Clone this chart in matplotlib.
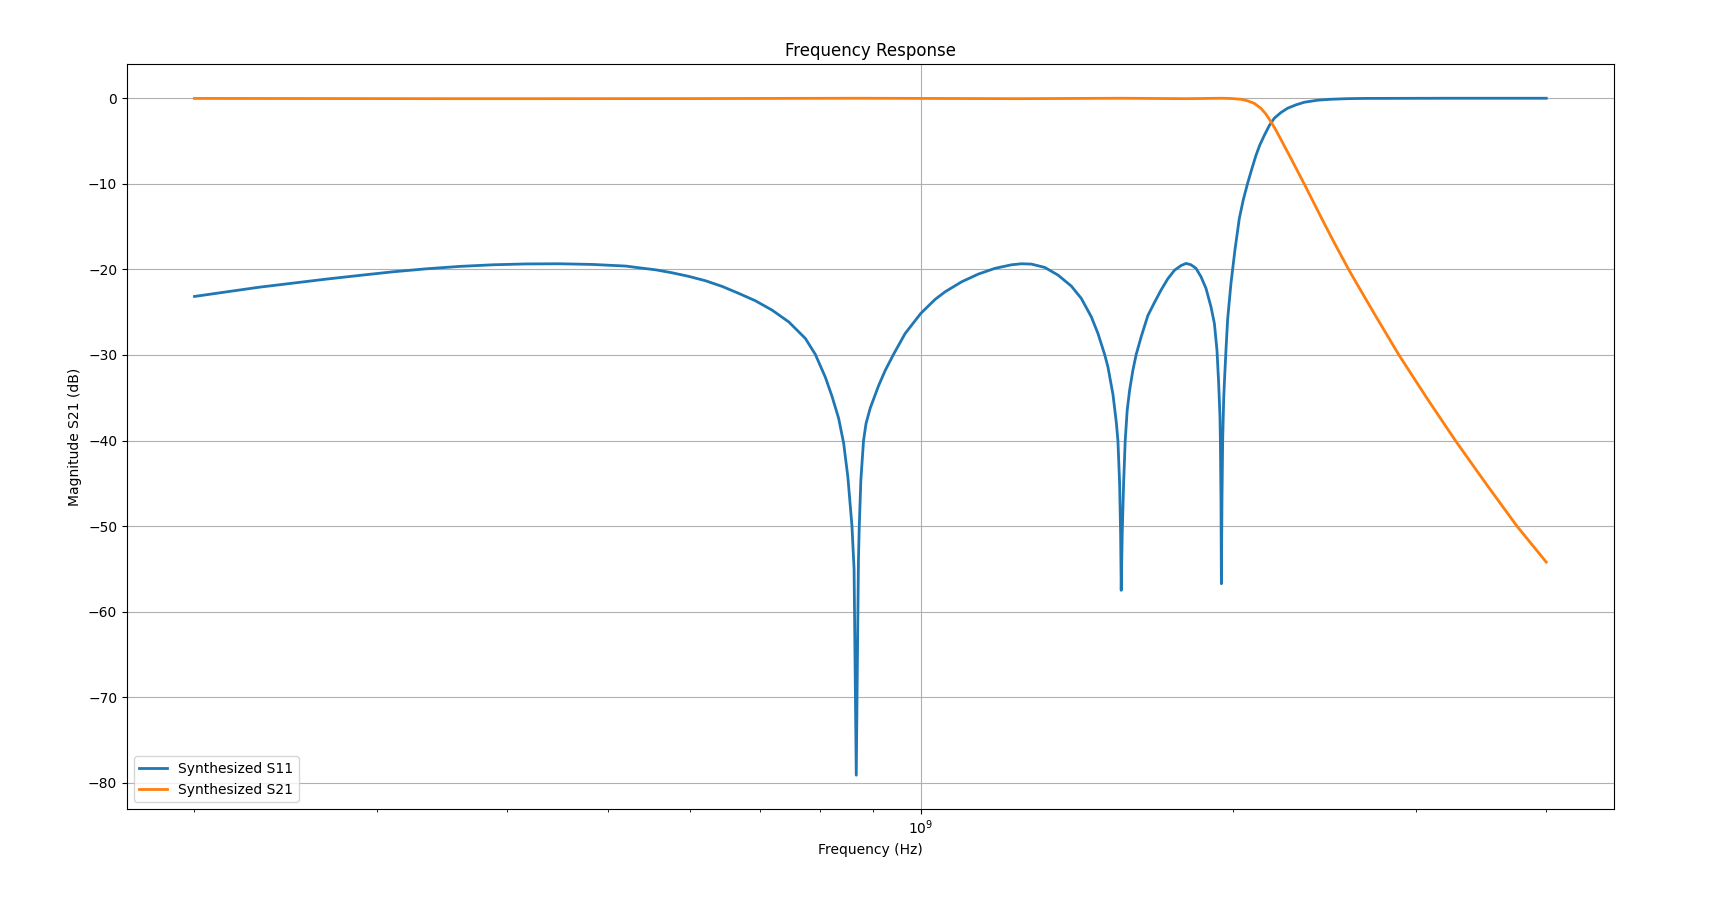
import matplotlib
matplotlib.use("Agg")
import matplotlib.pyplot as plt
import numpy as np

# ---- data (frequency in GHz, magnitude in dB) ----
s11_freq_ghz = [
    0.2000, 0.2148, 0.2312, 0.2489, 0.2680, 0.2884, 0.3105, 0.3343,
    0.3598, 0.3874, 0.4170, 0.4489, 0.4832, 0.5202, 0.5357, 0.5559,
    0.5767, 0.5983, 0.6209, 0.6441, 0.6684, 0.6934, 0.7194, 0.7464,
    0.7745, 0.7918, 0.8095, 0.8214, 0.8337, 0.8430, 0.8510, 0.8587,
    0.8627, 0.8669, 0.8711, 0.8727, 0.8758, 0.8810, 0.8859, 0.8942,
    0.9108, 0.9244, 0.9414, 0.9661, 1.0000, 1.0323, 1.0554, 1.0949,
    1.1360, 1.1787, 1.2229, 1.2502, 1.2781, 1.3166, 1.3559, 1.3963,
    1.4275, 1.4595, 1.4812, 1.5033, 1.5143, 1.5312, 1.5424, 1.5482,
    1.5540, 1.5574, 1.5595, 1.5630, 1.5678, 1.5734, 1.5803, 1.5888,
    1.6004, 1.6121, 1.6300, 1.6543, 1.6790, 1.7037, 1.7291, 1.7549,
    1.7807, 1.8005, 1.8205, 1.8408, 1.8612, 1.8819, 1.9028, 1.9172,
    1.9282, 1.9355, 1.9411, 1.9428, 1.9454, 1.9471, 1.9497, 1.9527,
    1.9570, 1.9600, 1.9670, 1.9744, 1.9889, 2.0065, 2.0261, 2.0441,
    2.0636, 2.0820, 2.1019, 2.1205, 2.1413, 2.1651, 2.1891, 2.2213,
    2.2545, 2.2962, 2.3393, 2.4091, 2.4810, 2.5743, 2.6712, 3.2112,
    4.0000,
]
s11_db = [
    -23.16, -22.62, -22.07, -21.60, -21.13, -20.70, -20.28, -19.93,
    -19.65, -19.46, -19.36, -19.34, -19.42, -19.61, -19.81, -20.05,
    -20.40, -20.82, -21.33, -21.99, -22.81, -23.67, -24.76, -26.13,
    -28.07, -29.94, -32.60, -34.80, -37.40, -40.30, -44.30, -50.00,
    -55.00, -79.10, -54.00, -50.00, -44.60, -40.00, -38.00, -36.20,
    -33.60, -31.80, -29.94, -27.49, -25.15, -23.51, -22.62, -21.45,
    -20.55, -19.88, -19.46, -19.34, -19.38, -19.77, -20.67, -21.95,
    -23.39, -25.54, -27.49, -29.94, -31.40, -34.60, -37.80, -40.00,
    -45.03, -50.88, -57.50, -50.88, -45.03, -40.00, -36.46, -34.12,
    -31.78, -29.94, -27.88, -25.40, -23.85, -22.40, -21.10, -20.10,
    -19.55, -19.30, -19.46, -19.88, -20.86, -22.22, -24.37, -26.32,
    -29.44, -33.33, -37.24, -40.00, -46.98, -56.73, -46.98, -40.00,
    -35.29, -33.33, -29.44, -25.80, -21.64, -17.74, -14.04, -11.85,
    -9.95, -8.35, -6.70, -5.45, -4.35, -3.20, -2.34, -1.68,
    -1.17, -0.78, -0.47, -0.23, -0.12, -0.05, -0.02, 0.00,
    0.00,
]

s21_freq_ghz = [
    0.2000, 0.3500, 0.4300, 0.6000, 0.8670, 1.2410, 1.5600, 1.8000,
    1.9500, 1.9889, 2.0333, 2.0636, 2.0944, 2.1252, 2.1489, 2.1727,
    2.1969, 2.2213, 2.2460, 2.2710, 2.3049, 2.3393, 2.3915, 2.4450,
    2.4997, 2.5840, 2.7260, 2.8860, 3.0676, 3.2706, 3.4965, 3.7487,
    4.0000,
]
s21_db = [
    -0.02, -0.05, -0.05, -0.04, 0.00, -0.05, 0.00, -0.05,
    0.00, -0.03, -0.12, -0.30, -0.60, -1.17, -1.84, -2.73,
    -3.71, -4.80, -5.90, -7.00, -8.50, -10.00, -12.30, -14.60,
    -16.85, -20.10, -24.96, -30.00, -34.97, -40.00, -44.96, -50.00,
    -54.20,
]

title = "Frequency Response"
xlabel = "Frequency (Hz)"
ylabel = "Magnitude S21 (dB)"
labels = ["Synthesized S11", "Synthesized S21"]

s11_freq = np.array(s11_freq_ghz) * 1e9
s21_freq = np.array(s21_freq_ghz) * 1e9

# ---- figure ----
DPI = 100
fig = plt.figure(figsize=(17.15, 9.07), dpi=DPI)
fig.subplots_adjust(left=0.0740, right=0.9410, bottom=0.1080, top=0.9290)
ax = fig.add_subplot(111)

ax.plot(s11_freq, s11_db, color="#1f77b4", linewidth=2, label=labels[0])
ax.plot(s21_freq, s21_db, color="#ff7f0e", linewidth=2, label=labels[1])

ax.set_xscale("log")
ax.set_title(title)
ax.set_xlabel(xlabel)
ax.set_ylabel(ylabel)
ax.grid(True)
ax.legend(loc="lower left")

fig.savefig("out.png", dpi=DPI)
